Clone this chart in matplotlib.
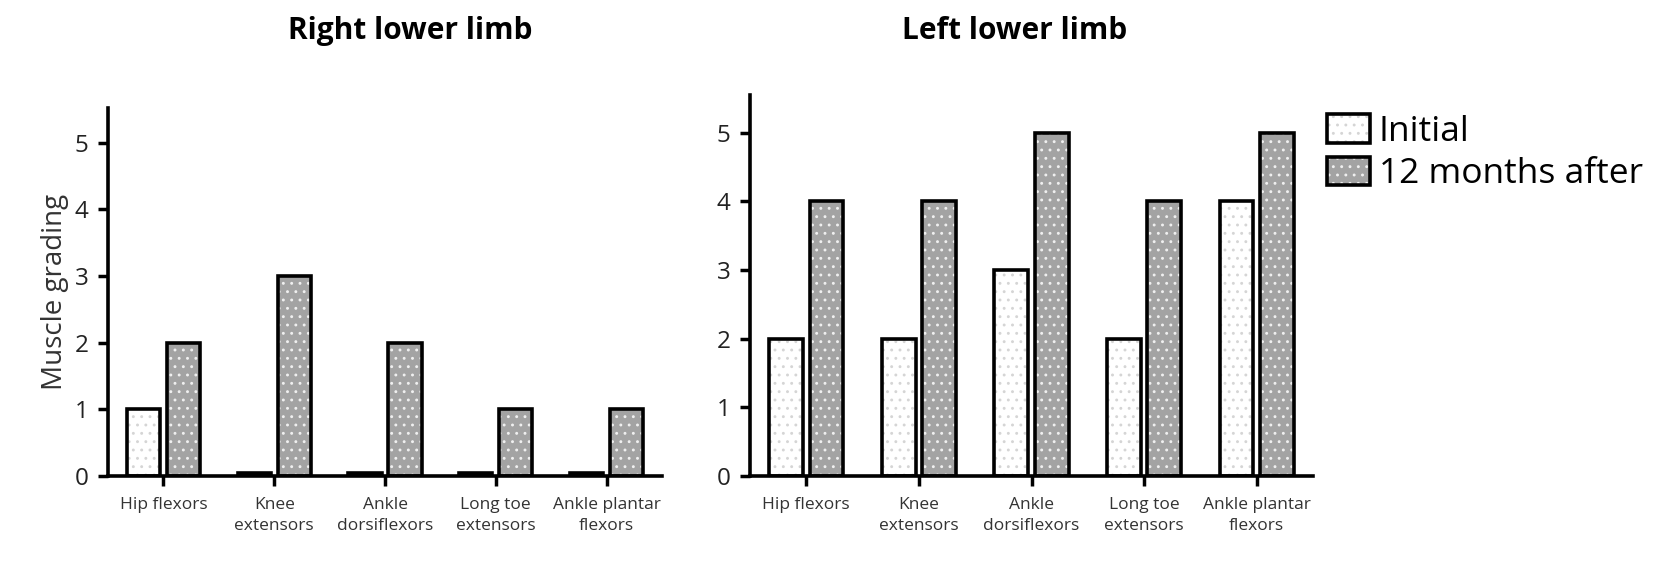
import matplotlib
matplotlib.use("Agg")
import matplotlib.pyplot as plt
import numpy as np
from matplotlib.patches import Patch
from matplotlib.legend_handler import HandlerTuple

plt.rcParams['font.family'] = ['Open Sans', 'DejaVu Sans']
plt.rcParams['hatch.linewidth'] = 0.9

categories = ["Hip flexors", "Knee\nextensors", "Ankle\ndorsiflexors", "Long toe\nextensors", "Ankle plantar\nflexors"]
right_initial = [1, 0, 0, 0, 0]
right_12m = [2, 3, 2, 1, 1]
left_initial = [2, 2, 3, 2, 4]
left_12m = [4, 4, 5, 4, 5]
series_names = ["Initial", "12 months after"]
titles = ["Right lower limb", "Left lower limb"]

W, H = 1654, 565
fig = plt.figure(figsize=(W / 100, H / 100), dpi=100)

def ax_at(x0, x1, y_top, y_bot):
    return fig.add_axes([x0 / W, 1 - y_bot / H, (x1 - x0) / W, (y_bot - y_top) / H])

axL = ax_at(108, 662, 108, 476)
axR = ax_at(750, 1313, 95, 476)

init_face, init_dot = "white", "#d5d5d5"
m12_face, m12_dot = "#a3a3a3", "#f0f0f0"
w, off = 0.3, 0.18
min_visible = 0.04  # zero values are drawn as a thin bar, as in the original

def draw(ax, init, m12, ymax):
    x = np.arange(len(categories))
    hi = np.maximum(np.asarray(init, float), min_visible)
    hm = np.maximum(np.asarray(m12, float), min_visible)
    ax.bar(x - off, hi, w, color=init_face, edgecolor=init_dot, hatch='..', linewidth=0)
    ax.bar(x - off, hi, w, fill=False, edgecolor='black', linewidth=2.6)
    ax.bar(x + off, hm, w, color=m12_face, edgecolor=m12_dot, hatch='..', linewidth=0)
    ax.bar(x + off, hm, w, fill=False, edgecolor='black', linewidth=2.6)
    ax.set_xlim(-0.5, len(categories) - 0.5)
    ax.set_ylim(0, ymax)
    ax.set_yticks(range(0, 6))
    ax.set_xticks(x)
    ax.set_xticklabels(categories, fontsize=12.5, color="#333333", linespacing=1.45)
    ax.tick_params(axis='y', labelsize=17.5, width=2.5, length=7, pad=7, colors='black')
    ax.tick_params(axis='x', width=2.5, length=7, pad=8)
    for s in ['top', 'right']:
        ax.spines[s].set_visible(False)
    for s in ['left', 'bottom']:
        ax.spines[s].set_linewidth(2.6)
    for lab in ax.get_yticklabels():
        lab.set_color('#222222')

draw(axL, right_initial, right_12m, 5.52)
draw(axR, left_initial, left_12m, 5.55)
axL.set_ylabel("Muscle grading", fontsize=20, color="#333333", labelpad=4)

fig.text(410 / W, 1 - 31 / H, titles[0], ha='center', va='center', fontsize=21.5, fontweight='bold')
fig.text(1015 / W, 1 - 31 / H, titles[1], ha='center', va='center', fontsize=21.5, fontweight='bold')

h_init = (Patch(facecolor=init_face, edgecolor=init_dot, hatch='..', linewidth=0),
          Patch(fill=False, edgecolor='black', linewidth=2.6))
h_m12 = (Patch(facecolor=m12_face, edgecolor=m12_dot, hatch='..', linewidth=0),
         Patch(fill=False, edgecolor='black', linewidth=2.6))
fig.legend([h_init, h_m12], series_names, handler_map={tuple: HandlerTuple(ndivide=1, pad=0)},
           loc='upper left', bbox_to_anchor=(1299 / W, 1 - 86 / H), frameon=False,
           fontsize=25.5, handlelength=1.2, handleheight=0.85, handletextpad=0.25,
           labelspacing=0.22, borderpad=0.3)

fig.savefig("out.png", dpi=100)
